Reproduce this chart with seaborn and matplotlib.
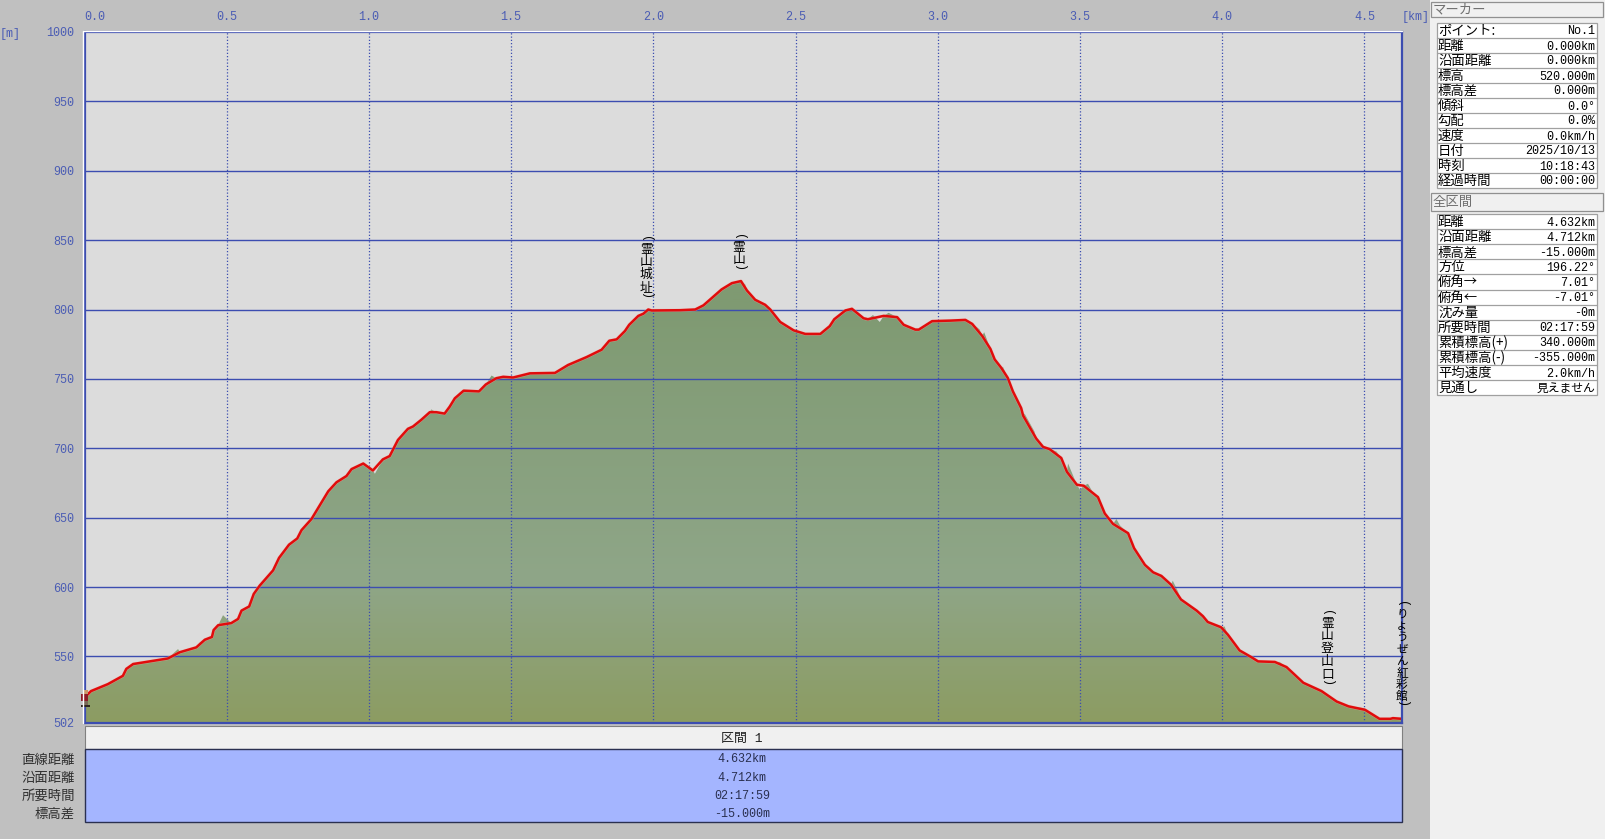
import numpy as np
import pandas as pd
import matplotlib
matplotlib.use('Agg')
import matplotlib.pyplot as plt
from matplotlib.colors import LinearSegmentedColormap
from matplotlib.patches import Rectangle
import seaborn as sns

# Data: track
track_km = [0.0, 0.008, 0.023, 0.082, 0.135, 0.147, 0.171, 0.217, 0.293, 0.335, 0.393, 0.423, 0.448, 0.454,
            0.47, 0.516, 0.54, 0.552, 0.579, 0.595, 0.616, 0.663, 0.684, 0.719, 0.748, 0.763, 0.798, 0.857,
            0.886, 0.921, 0.939, 0.98, 1.014, 1.049, 1.073, 1.102, 1.137, 1.155, 1.184, 1.214, 1.237, 1.266,
            1.284, 1.302, 1.333, 1.387, 1.411, 1.448, 1.472, 1.507, 1.566, 1.654, 1.70, 1.765, 1.818, 1.845,
            1.871, 1.90, 1.915, 1.947, 1.965, 1.982, 1.994, 2.094, 2.147, 2.176, 2.229, 2.24, 2.276, 2.308,
            2.329, 2.358, 2.393, 2.411, 2.446, 2.493, 2.534, 2.587, 2.62, 2.636, 2.675, 2.698, 2.739, 2.754,
            2.81, 2.857, 2.88, 2.921, 2.933, 2.98, 3.045, 3.097, 3.121, 3.156, 3.185, 3.20, 3.223, 3.246,
            3.264, 3.293, 3.30, 3.346, 3.37, 3.393, 3.434, 3.454, 3.489, 3.513, 3.563, 3.587, 3.616, 3.669,
            3.69, 3.728, 3.757, 3.786, 3.82, 3.855, 3.91, 3.932, 3.949, 3.996, 4.02, 4.061, 4.102, 4.126,
            4.185, 4.226, 4.285, 4.349, 4.402, 4.444, 4.502, 4.553, 4.591, 4.60, 4.632]
track_m = [520, 522, 525, 530, 536, 541, 544.5, 546, 548.5, 553, 556.5, 562, 564, 569,
           572.5, 574, 577, 583, 586, 595, 601, 612, 621, 630.5, 635, 641, 649, 669,
           675.5, 680, 685, 689, 684, 692, 694.4, 706, 714, 715.7, 720.5, 726, 726, 725,
           730, 736, 741.5, 741, 746, 750.5, 751.5, 751, 754, 754.3, 760, 765.7, 771, 777.5,
           778.5, 784.5, 789, 795.4, 797, 800, 799.3, 799.5, 800, 803, 812.5, 814.5, 819, 820.5,
           813.7, 807, 803.4, 800, 791, 785, 782.4, 782.4, 788, 793, 799.3, 800.5, 793.7, 793,
           795.4, 794.5, 789, 785.5, 785.5, 791.6, 792, 792.5, 789.6, 781, 771.6, 764, 758, 750.7,
           741, 729, 723.5, 707, 701, 699.4, 693, 683, 673.7, 673, 664.8, 653, 645.5, 638.8,
           628, 616, 610.6, 608, 601.7, 591, 583, 579, 574.8, 571, 565.6, 554.3, 549.5, 546.4,
           546, 542.3, 531, 525, 517.5, 514, 511.5, 505, 505, 505.5, 505]

# Where the shaded ground leaves the track
ground_km = [0.329, 0.405, 0.487, 0.552, 1.021, 1.219, 1.319, 1.431, 2.323, 2.34, 2.772, 2.796, 2.827, 3.139, 3.147,
             3.163, 3.229, 3.305, 3.34, 3.417, 3.458, 3.5, 3.528, 3.543, 3.628, 3.64, 3.744, 3.826, 3.844,
             4.008, 4.202, 4.5]
ground_m = [555.3, 560, 579.7, 584, 681.6, 728, 740, 752.4, 818, 811.3, 796, 791, 797.6, 787, 785.6,
            783.6, 758.7, 725, 712, 697.7, 689, 670, 674.4, 669, 649, 644.5, 614.4, 604.6, 597,
            571.6, 546, 512.7]

km_ticks = [0.0, 0.5, 1.0, 1.5, 2.0, 2.5, 3.0, 3.5, 4.0, 4.5]
m_ticks = [502, 550, 600, 650, 700, 750, 800, 850, 900, 950, 1000]

place_names = ['霊山城址', '霊山', '霊山登山口', 'りょうぜん紅彩館']
place_km = [1.975, 2.30, 4.37, 4.632]
place_top_m = [850.5, 852, 581, 587.5]

marker_labels = ['ポイント:', '距離', '沿面距離', '標高', '標高差', '傾斜', '勾配', '速度', '日付', '時刻', '経過時間']
marker_values = ['No.1', '0.000km', '0.000km', '520.000m', '0.000m', '0.0°', '0.0%', '0.0km/h',
                 '2025/10/13', '10:18:43', '00:00:00']
total_labels = ['距離', '沿面距離', '標高差', '方位', '俯角→', '俯角←', '沈み量', '所要時間',
                '累積標高(+)', '累積標高(-)', '平均速度', '見通し']
total_values = ['4.632km', '4.712km', '-15.000m', '196.22°', '7.01°', '-7.01°', '-0m', '02:17:59',
                '340.000m', '-355.000m', '2.0km/h', '見えません']
section_labels = ['直線距離', '沿面距離', '所要時間', '標高差']
section_values = ['4.632km', '4.712km', '02:17:59', '-15.000m']

BLUE = '#3C4DB0'
TICK = '#4A5CB4'
W, H = 1605, 839
JP = ['Noto Sans CJK JP', 'DejaVu Sans']

sns.set_style('white')
plt.rcParams['font.family'] = ['Liberation Mono', 'Noto Sans CJK JP', 'DejaVu Sans']

fig = plt.figure(figsize=(W / 100, H / 100), dpi=100, facecolor='#C0C0C0')
ax = fig.add_axes([84.5 / W, 1 - 723 / H, (1402 - 84.5) / W, (723 - 32) / H], facecolor='#DCDCDC')

# Ground = track plus the places where it differs
ground = pd.concat([pd.DataFrame({'km': track_km, 'm': track_m}),
                    pd.DataFrame({'km': ground_km, 'm': ground_m})]).sort_values('km')

cmap = LinearSegmentedColormap.from_list('ground', [(0.0, '#8C9C62'), (0.32, '#8FA688'), (0.95, '#7F9A72'),
                                                    (1.0, '#7F9A72')])
img = ax.imshow(np.linspace(1, 0, 256).reshape(-1, 1), extent=[0, 4.632, 502, 820], aspect='auto',
                cmap=cmap, zorder=1)
poly = ax.fill_between(ground['km'], ground['m'], 502, color='none', zorder=1)
img.set_clip_path(poly.get_paths()[0], transform=ax.transData)

sns.lineplot(x=track_km, y=track_m, sort=False, estimator=None, color='#F2B0A8', linewidth=2.4, ax=ax,
             zorder=3, alpha=0.5)
sns.lineplot(x=track_km, y=track_m, sort=False, estimator=None, color='#E00C0C', linewidth=1.8, ax=ax, zorder=4)

ax.set_xlim(0, 4.632)
ax.set_ylim(502, 1000)
ax.set_xticks(km_ticks)
ax.set_xticklabels([f'{k:.1f}' for k in km_ticks])
ax.set_yticks(m_ticks)
ax.xaxis.tick_top()
ax.tick_params(axis='x', length=0, pad=6.5, labelsize=8.5, labelcolor=TICK)
ax.tick_params(axis='y', length=0, pad=7.5, labelsize=8.5, labelcolor=TICK)
ax.get_xticklabels()[0].set_ha('left')
ax.get_xticklabels()[0].set_x(0.012)
for k in km_ticks[1:]:
    ax.axvline(k, color=BLUE, lw=0.9, ls=(0, (1, 1.6)), zorder=2)
for m in m_ticks[1:-1]:
    ax.axhline(m, color=BLUE, lw=1.0, zorder=2)
for s in ax.spines.values():
    s.set_color(BLUE)
    s.set_linewidth(1.6)
    s.set_visible(True)
    s.set_zorder(5)

# Vertical place names
for name, k, top in zip(place_names, place_km, place_top_m):
    step = 9.2 if len(name) < 8 else 8.5
    size = 9.2 if len(name) < 8 else 8.4
    ax.text(k, top, '(', rotation=270, ha='center', va='center', fontsize=8.5, color='black', clip_on=False, zorder=6)
    y = top - 6
    for c in name:
        ax.text(k, y - 1, c, ha='center', va='center', fontsize=size, family=JP, color='black',
                clip_on=False, zorder=6)
        y -= step
    ax.text(k, y + 2.5, ')', rotation=270, ha='center', va='center', fontsize=8.5, color='black', clip_on=False, zorder=6)

# Window furniture in pixel coordinates
ov = fig.add_axes([0, 0, 1, 1], facecolor='none', zorder=10)
ov.set_xlim(0, W)
ov.set_ylim(H, 0)
ov.axis('off')


def rect(x0, y0, x1, y1, **kw):
    ov.add_patch(Rectangle((x0, y0), x1 - x0, y1 - y0, **kw))


ov.text(10, 34, '[m]', color=TICK, fontsize=8.5, ha='center', va='center')
ov.text(1416, 17, '[km]', color=TICK, fontsize=8.5, ha='center', va='center')
ov.plot([83, 83, 1402], [723, 30.5, 30.5], color='white', lw=1)

# Hiker at the marker
rect(83, 690, 88, 694, fc='#C8986C', ec='none')
rect(81, 694, 88, 701, fc='#8E1C28', ec='none')
rect(83, 701, 88, 705, fc='#7A6A58', ec='none')
rect(81, 705, 90, 707, fc='#302820', ec='none')

# Section band
rect(84.5, 726, 1402, 749, fc='#F0F0F0', ec='#808080', lw=0.8)
rect(84.5, 749, 1402, 822, fc='#A4B5FF', ec='#2A3050', lw=1.0)
ov.text(742, 738.5, '区間 1', fontsize=9.4, color='#202020', ha='center', va='center')
for i, (lab, val) in enumerate(zip(section_labels, section_values)):
    y = 759.5 + i * 18.1
    ov.text(75, y, lab, fontsize=9.6, family=JP, color='#303030', ha='right', va='center')
    ov.text(742, y, val, fontsize=8.5, color='#2A3050', ha='center', va='center')

# Side panel
rect(1430, 0, W, H, fc='#F0F0F0', ec='none')


def header(y0, y1, label):
    rect(1431, y0, 1603, y1, fc='#F0F0F0', ec='#909090', lw=0.9)
    ov.text(1433, (y0 + y1) / 2, label, fontsize=9.6, family=JP, color='#707070', ha='left', va='center')


def table(y0, row_h, labels, values):
    rect(1437, y0, 1597, y0 + row_h * len(labels), fc='white', ec='#A0A0A0', lw=0.9)
    for i, (lab, val) in enumerate(zip(labels, values)):
        y = y0 + row_h * i
        if i:
            ov.plot([1437, 1597], [y, y], color='#A0A0A0', lw=0.9)
        ov.text(1438, y + row_h / 2 + 0.5, lab, fontsize=9.6, family=JP, color='black', ha='left', va='center')
        ov.text(1595, y + row_h / 2 + 1, val, fontsize=8.5, color='black', ha='right', va='center')


header(2, 17, 'マーカー')
table(23, 15, marker_labels, marker_values)
header(193, 211, '全区間')
table(214, 15.1, total_labels, total_values)

plt.savefig('out.png', dpi=100, facecolor=fig.get_facecolor())
